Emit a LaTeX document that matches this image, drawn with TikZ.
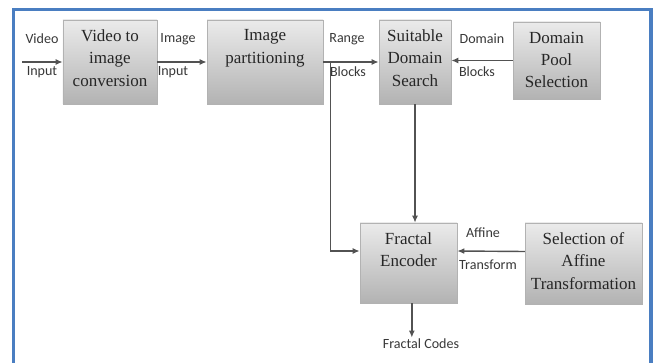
\documentclass[tikz,border=0pt]{standalone}
\usepackage{fontspec}
\setmainfont{Liberation Serif}
\newfontfamily\lblfont{Carlito}
\usetikzlibrary{arrows.meta, positioning, shadows}

\begin{document}
\begin{tikzpicture}[
  x=0.3mm, y=-0.3mm, % one unit per pixel, y running downwards
  blk/.style={rectangle, draw=gray!60, top color=gray!16, middle color=gray!3, bottom color=gray!60, minimum height=25.2mm, inner sep=0pt, drop shadow={shadow xshift=0.8pt, shadow yshift=-0.8pt, opacity=0.25}},
  blktxt/.style={anchor=north, yshift=-5pt, align=center, font=\fontsize{14.5}{19}\selectfont, text=black!85},
  lbl/.style={font=\lblfont\fontsize{12}{14}\selectfont, text=black!78, inner sep=1pt},
  arr/.style={-{Latex[length=6pt, width=5pt]}, draw=black!68, line width=1.2pt},
  frame/.style={draw={rgb,255:red,74;green,126;blue,193}, line width=3pt}
]
\useasboundingbox (0,0) rectangle (658,363);

% outer border, open at the bottom
\draw[frame] (13.5,363) -- (13.5,9.5) -- (651,9.5) -- (651,363);

% Top row of blocks
\node[blk, minimum width=28.2mm, label={[blktxt]north:{Video to\\image\\conversion}}] (conv) at (110,62) {};
\node[blk, minimum width=34.8mm, label={[blktxt]north:{Image\\partitioning}}] (part) at (265,62) {};
\node[blk, minimum width=21.6mm, label={[blktxt]north:{Suitable\\Domain\\Search}}] (search) at (415,62) {};
\node[blk, minimum width=26.1mm, minimum height=23.1mm, label={[blktxt]north:{Domain\\Pool\\Selection}}] (pool) at (556.5,60.5) {};

% Bottom row of blocks
\node[blk, minimum width=29.1mm, minimum height=24mm, label={[blktxt]north:{Fractal\\Encoder}}] (enc) at (408.5,263) {};
\node[blk, minimum width=35.1mm, minimum height=24.3mm, label={[blktxt]north:{Selection of\\Affine\\Transformation}}] (aff) at (583.5,263.5) {};

% Video input
\coordinate (vin) at (22,62);
\draw[arr] (vin) -- (conv.west);
\node[lbl] (vid) at (42,39) {Video};
\node[lbl] (vidin) at (42,72) {Input};

% Horizontal links along the top
\draw[arr] (conv.east) -- (part.west);
\node[lbl] (img) at (178,39) {Image};
\node[lbl] (imgin) at (173,72) {Input};

\draw[arr] (part.east) -- (search.west);
\node[lbl] (rng) at (347,39) {Range};
\node[lbl] (rngblk) at (348,72) {Blocks};

\draw[arr] (pool.west) -- (pool.west -| search.east);
\node[lbl] (dom) at (482,39) {Domain};
\node[lbl] (domblk) at (477,72) {Blocks};

% Range blocks also go down to the encoder
\draw[arr] ([xshift=2.1mm]part.east) |- ([yshift=3.6mm]enc.west);
\draw[arr] (search.south) -- (search.south |- enc.north);

% Affine transform into encoder
\draw[arr] ([yshift=3.6mm]aff.west) -- ([yshift=3.6mm]enc.east);
\node[lbl] (affl) at (483,233) {Affine};
\node[lbl] (trf) at (488,265) {Transform};

% Output
\node[lbl] (codes) at (421,344) {Fractal Codes};
\draw[arr] ([xshift=1mm]enc.south) -- ([xshift=1mm]enc.south |- codes.north);

\end{tikzpicture}
\end{document}
